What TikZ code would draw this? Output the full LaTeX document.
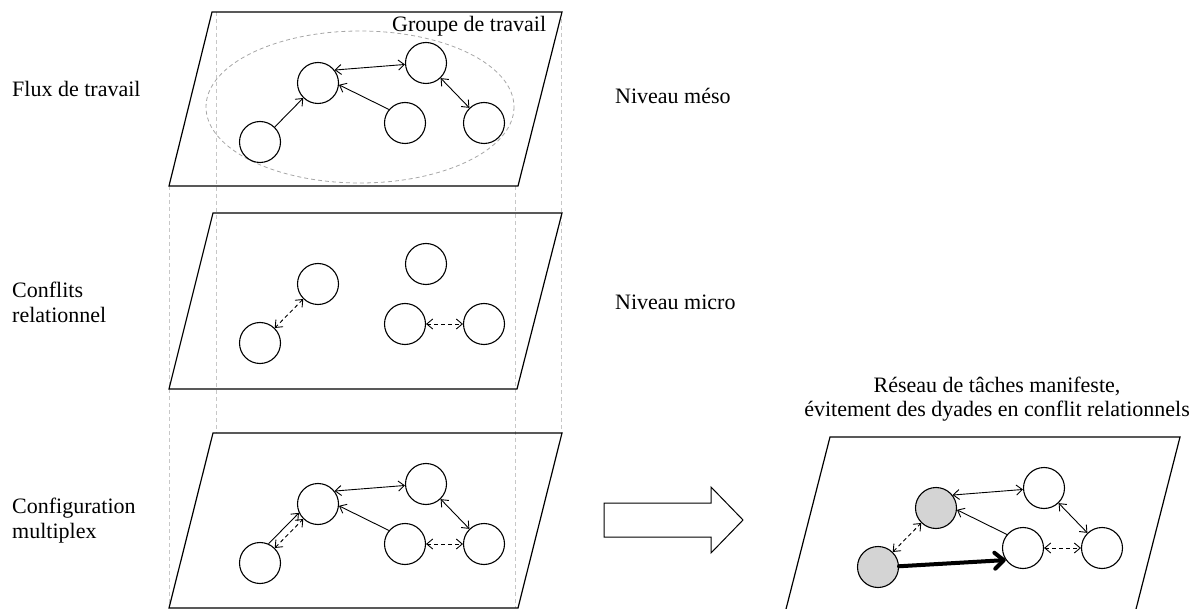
\documentclass[tikz,border=0pt]{standalone}
\usepackage{fontspec}
\setmainfont{Liberation Serif}
\usetikzlibrary{arrows.meta}
\begin{document}
\begin{tikzpicture}[x=1pt,y=-1pt,
  nd/.style={circle,draw,line width=1.1pt,minimum size=41pt,inner sep=0pt},
  gnd/.style={nd,fill=black!17},
  panel/.style={draw,line width=1.2pt},
  lnk/.style={line width=0.9pt},
  dlnk/.style={line width=0.9pt,dash pattern=on 4pt off 3pt},
  guide/.style={draw=black!22,line width=0.8pt,dash pattern=on 4pt off 3pt},
  lbl/.style={font=\fontsize{22}{25}\selectfont,inner sep=0pt,anchor=base west},
  ttl/.style={font=\fontsize{22}{25}\selectfont,inner sep=0pt,anchor=base},
  >={Straight Barb[length=6pt,width=10pt]}
]
\useasboundingbox (0,0) rectangle (1196,609);

% guide lines of the stack
\coordinate (g1a) at (169,186); \coordinate (g1b) at (169,608);
\coordinate (g2a) at (216,12);  \coordinate (g2b) at (216,433);
\coordinate (g3a) at (515,186); \coordinate (g3b) at (515,608);
\coordinate (g4a) at (561,12);  \coordinate (g4b) at (561,433);
\draw[guide] (g1a) -- (g1b);
\draw[guide] (g2a) -- (g2b);
\draw[guide] (g3a) -- (g3b);
\draw[guide] (g4a) -- (g4b);

% panels
\draw[panel] (212,12) -- (562,12) -- (518,186) -- (169,186) -- cycle;
\draw[panel] (213,213) -- (562,213) -- (517,389) -- (169,389) -- cycle;
\draw[panel] (213,433) -- (562,433) -- (518,608) -- (169,608) -- cycle;
\draw[panel] (785,613) -- (830,437) -- (1180,437) -- (1135,613);

% work group ellipse
\draw[draw=black!35,line width=0.8pt,dash pattern=on 4pt off 3pt] (360,107) ellipse [x radius=154, y radius=76];
\node[lbl] (grp) at (392,32) {Groupe de travail};

% top layer
\node[nd] (tA) at (318,83) {};
\node[nd] (tB) at (426,63) {};
\node[nd] (tC) at (260,142) {};
\node[nd] (tD) at (405,123) {};
\node[nd] (tE) at (484,123) {};
\draw[lnk,->] (tC) -- (tA);
\draw[lnk,->] (tD.140) -- (tA.-5);
\draw[lnk,<->] (tA.38) -- (tB.184);
\draw[lnk,<->] (tB) -- (tE);

% middle layer
\node[nd] (mA) at (318,284) {};
\node[nd] (mB) at (426,264) {};
\node[nd] (mC) at (260,343) {};
\node[nd] (mD) at (405,324) {};
\node[nd] (mE) at (484,324) {};
\draw[dlnk,<->] (mA) -- (mC);
\draw[dlnk,<->] (mD) -- (mE);

% bottom layer
\node[nd] (bA) at (318,504) {};
\node[nd] (bB) at (426,484) {};
\node[nd] (bC) at (260,563) {};
\node[nd] (bD) at (405,544) {};
\node[nd] (bE) at (484,544) {};
\draw[lnk,->] (bC.66) -- (bA.205);
\draw[dlnk,<->] (bC) -- (bA);
\draw[lnk,->] (bD.140) -- (bA.-5);
\draw[lnk,<->] (bA.38) -- (bB.184);
\draw[lnk,<->] (bB) -- (bE);
\draw[dlnk,<->] (bD) -- (bE);

% big hollow arrow
\draw[line width=1pt] (604,503) -- (711,503) -- (711,487) -- (743,520) -- (711,553) -- (711,537) -- (604,537) -- cycle;

% right layer
\node[gnd] (rA) at (936,508) {};
\node[nd]  (rB) at (1044,488) {};
\node[gnd] (rC) at (878,567) {};
\node[nd]  (rD) at (1023,548) {};
\node[nd]  (rE) at (1102,548) {};
\draw[dlnk,<->] (rC) -- (rA);
\draw[lnk,->] (rD.140) -- (rA.-5);
\draw[lnk,<->] (rA.38) -- (rB.184);
\draw[lnk,<->] (rB) -- (rE);
\draw[dlnk,<->] (rD) -- (rE);
\draw[line width=4pt,-{Straight Barb[length=9pt,width=16pt,line cap=round,line join=round]},line cap=round] (rC.2) -- (rD.215);

% labels
\node[lbl] (l1) at (12,97) {Flux de travail};
\node[lbl] (l2a) at (12,298) {Conflits};
\node[lbl] (l2b) at (12,323) {relationnel};
\node[lbl] (l3a) at (12,513) {Configuration};
\node[lbl] (l3b) at (12,538) {multiplex};
\node[lbl] (n1) at (615,104) {Niveau méso};
\node[lbl] (n2) at (615,310) {Niveau micro};
\node[ttl] (t1) at (997,392) {Réseau de tâches manifeste,};
\node[ttl] (t2) at (997,416) {évitement des dyades en conflit relationnels};
\end{tikzpicture}
\end{document}
